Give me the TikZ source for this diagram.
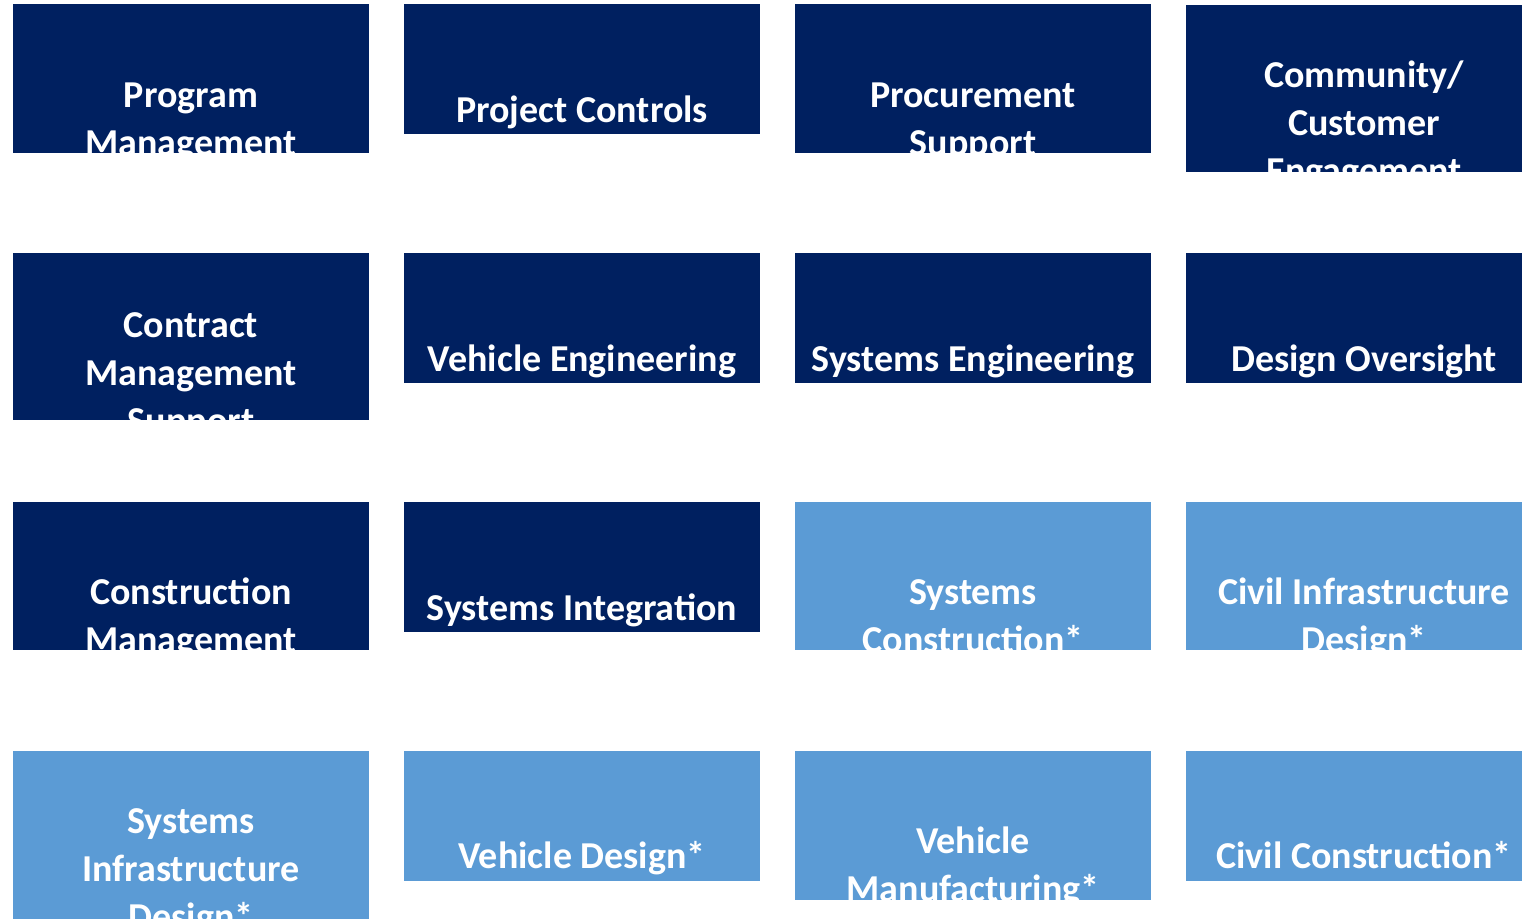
\documentclass[tikz,border=0pt]{standalone}
\usepackage{fontspec}
\setmainfont{Carlito}
\definecolor{navy}{HTML}{002060}
\definecolor{skyblue}{HTML}{5B9BD5}

\begin{document}
\begin{tikzpicture}[x=1pt, y=-1pt,
    tile/.style={inner sep=0pt, text=white, align=center, anchor=base,
      font=\bfseries\fontsize{38}{48}\selectfont}]

    % Page frame
    \useasboundingbox (0,0) rectangle (1522,919);
    \clip (0,0) rectangle (1522,919);

    % Tiles: name / left / top / bottom / colour / last baseline / text
    \foreach \id/\x/\ytop/\ybot/\col/\base/\txt in {
        prog/13/4/153/navy/155/{Program\\Management},
        ctrl/404/4/134/navy/122/{Project Controls},
        proc/795/4/153/navy/155/{Procurement\\Support},
        comm/1186/5/172/navy/183/{Community/\\Customer\\Engagement},
        cont/13/253/420/navy/433/{Contract\\Management\\Support},
        veng/404/253/383/navy/371/{Vehicle Engineering},
        seng/795/253/383/navy/371/{Systems Engineering},
        dovr/1186/253/383/navy/371/{Design Oversight},
        cmgt/13/502/650/navy/652/{Construction\\Management},
        sint/404/502/632/navy/620/{Systems Integration},
        scon/795/502/650/skyblue/652/{Systems\\Construction*},
        cdes/1186/502/650/skyblue/652/{Civil Infrastructure\\Design*},
        sdes/13/751/919/skyblue/929/{Systems\\Infrastructure\\Design*},
        vdes/404/751/881/skyblue/868/{Vehicle Design*},
        vman/795/751/900/skyblue/901/{Vehicle\\Manufacturing*},
        ccon/1186/751/881/skyblue/868/{Civil Construction*}}{
      \begin{scope}
        \fill[\col] (\x,\ytop) rectangle (\x+356,\ybot);
        \clip (\x,\ytop) rectangle (\x+356,\ybot);
        \node[tile] (\id) at (\x+178,\base) {\txt};
      \end{scope}
    }

\end{tikzpicture}
\end{document}
